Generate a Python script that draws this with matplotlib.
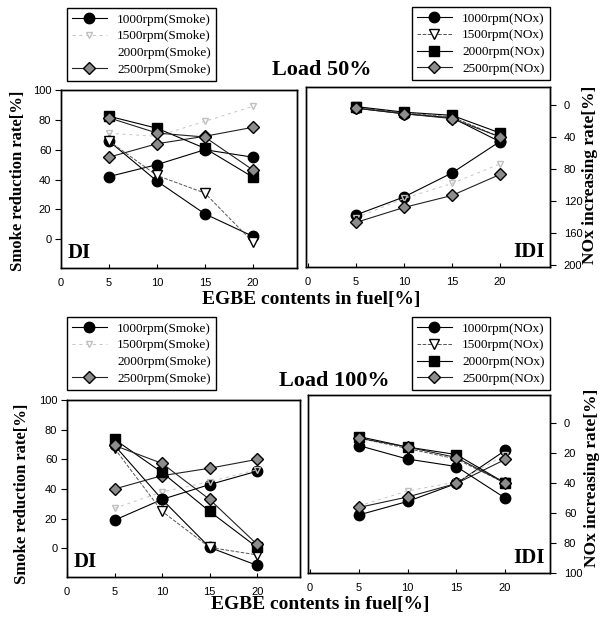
import matplotlib.pyplot as plt
from matplotlib.lines import Line2D

plt.rcParams['font.family'] = 'Liberation Sans'
SERIF = 'Liberation Serif'

fuel = [5, 10, 15, 20]

# Load 50%, DI engine
smoke50_di_1000 = [42, 50, 60, 55]
smoke50_di_1500 = [71, 69, 79, 89]
smoke50_di_2500 = [55, 64, 69, 75]
nox50_di_1000 = [45, 95, 136, 164]
nox50_di_1500 = [45, 88, 110, 171]
nox50_di_2000 = [14, 29, 54, 90]
nox50_di_2500 = [16, 35, 40, 81]

# Load 50%, IDI engine
smoke50_idi_1000 = [16, 28, 44, 65]
smoke50_idi_1500 = [14, 27, 37, 50]
smoke50_idi_2500 = [11, 21, 29, 43]
nox50_idi_1000 = [4, 11, 16, 46]
nox50_idi_1500 = [3, 10, 15, 40]
nox50_idi_2000 = [2, 9, 13, 35]
nox50_idi_2500 = [4, 11, 17, 40]

# Load 100%, DI engine
smoke100_di_1000 = [19, 33, 43, 52]
smoke100_di_1500 = [27, 38, 45, 53]
smoke100_di_2500 = [40, 49, 54, 60]
nox100_di_1000 = [15, 51, 83, 95]
nox100_di_1500 = [17, 59, 83, 88]
nox100_di_2000 = [11, 33, 59, 83]
nox100_di_2500 = [15, 27, 51, 81]

# Load 100%, IDI engine
smoke100_idi_1000 = [22, 31, 43, 65]
smoke100_idi_1500 = [28, 38, 44, 62]
smoke100_idi_2500 = [27, 34, 43, 59]
nox100_idi_1000 = [15, 24, 29, 50]
nox100_idi_1500 = [10, 17, 24, 40]
nox100_idi_2000 = [9, 16, 21, 40]
nox100_idi_2500 = [10, 16, 23, 40]

rpm = [1000, 1500, 2000, 2500]

styles = {
    1000: dict(color='black', lw=0.8, marker='o', ms=7.5, mfc='black', mec='black'),
    1500: dict(color='#555555', lw=0.7, ls='--', marker='v', ms=7, mfc='white', mec='black'),
    2000: dict(color='black', lw=0.8, marker='s', ms=7, mfc='black', mec='black'),
    2500: dict(color='#222222', lw=0.8, marker='D', ms=6, mfc='#8c8c8c', mec='black'),
}
faint = dict(color='#c4c4c4', lw=0.7, ls=(0, (3, 4)), marker='v', ms=4,
             mfc='none', mec='#c0c0c0')

fig = plt.figure(figsize=(6.03, 6.21), dpi=100)


def panel(rect, xlim, smoke_lim, nox_lim, smoke, nox, side, tag):
    ax = fig.add_axes(rect)
    ax2 = ax.twinx()
    for r, vals in smoke.items():
        st = faint if r == 1500 else styles[r]
        ax.plot(fuel, vals, clip_on=False, **st)
    for r, vals in nox.items():
        ax2.plot(fuel, vals, clip_on=False, **styles[r])
    ax.set_xlim(*xlim)
    ax.set_ylim(*smoke_lim)
    ax2.set_ylim(*nox_lim)
    ax.set_xticks([0, 5, 10, 15, 20])
    ax.tick_params(axis='x', direction='in', length=3, labelsize=8, pad=7)
    for a in (ax, ax2):
        for s in a.spines.values():
            s.set_linewidth(1.0)
    if side == 'left':
        ax.set_yticks([0, 20, 40, 60, 80, 100])
        ax.tick_params(axis='y', direction='out', length=4, labelsize=8, pad=3)
        ax2.tick_params(axis='y', right=False, labelright=False)
        ax.text(0.03, 0.03, tag, transform=ax.transAxes, fontfamily=SERIF,
                fontweight='bold', fontsize=15, ha='left', va='bottom')
    else:
        ax.tick_params(axis='y', left=False, labelleft=False)
        ax2.tick_params(axis='y', direction='out', length=4, labelsize=8, pad=6)
        ax.text(0.98, 0.03, tag, transform=ax.transAxes, fontfamily=SERIF,
                fontweight='bold', fontsize=15, ha='right', va='bottom')
    return ax, ax2


# top row (Load 50%)
panel([0.1012, 0.5684, 0.391, 0.2866], (0, 24.6), (-19.3, 100), (203.7, -18.7),
      {1000: smoke50_di_1000, 1500: smoke50_di_1500, 2500: smoke50_di_2500},
      {1000: nox50_di_1000, 1500: nox50_di_1500, 2000: nox50_di_2000, 2500: nox50_di_2500},
      'left', 'DI')
_, a2 = panel([0.5075, 0.570, 0.4046, 0.290], (-0.2, 25.2), (-18.7, 101.3), (202.5, -22.5),
              {1000: smoke50_idi_1000, 1500: smoke50_idi_1500, 2500: smoke50_idi_2500},
              {1000: nox50_idi_1000, 1500: nox50_idi_1500, 2000: nox50_idi_2000, 2500: nox50_idi_2500},
              'right', 'IDI')
a2.set_yticks([0, 40, 80, 120, 160, 200])

# bottom row (Load 100%)
panel([0.1111, 0.0709, 0.3864, 0.285], (0, 24.5), (-19.3, 99), (102.7, -15.3),
      {1000: smoke100_di_1000, 1500: smoke100_di_1500, 2500: smoke100_di_2500},
      {1000: nox100_di_1000, 1500: nox100_di_1500, 2000: nox100_di_2000, 2500: nox100_di_2500},
      'left', 'DI')
_, b2 = panel([0.5108, 0.0773, 0.4013, 0.2866], (-0.2, 24.6), (-16.7, 102), (100, -18.7),
              {1000: smoke100_idi_1000, 1500: smoke100_idi_1500, 2500: smoke100_idi_2500},
              {1000: nox100_idi_1000, 1500: nox100_idi_1500, 2000: nox100_idi_2000, 2500: nox100_idi_2500},
              'right', 'IDI')
b2.set_yticks([0, 20, 40, 60, 80, 100])


def handles(kind):
    hs = []
    for r in rpm:
        if kind == 'Smoke' and r == 1500:
            hs.append(Line2D([], [], **faint))
        elif kind == 'Smoke' and r == 2000:
            hs.append(Line2D([], [], color='none'))
        else:
            hs.append(Line2D([], [], **styles[r]))
    return hs, ['%drpm(%s)' % (r, kind) for r in rpm]


leg_kw = dict(frameon=True, fancybox=False, edgecolor='black', framealpha=1,
              borderaxespad=0, handlelength=2.6, labelspacing=0.35,
              prop={'family': SERIF, 'size': 9.5})
for kind, loc, anchor in [('Smoke', 'upper left', (67 / 603, 1 - 8 / 621)),
                          ('NOx', 'upper right', (550 / 603, 1 - 7 / 621)),
                          ('Smoke', 'upper left', (67 / 603, 1 - 317 / 621)),
                          ('NOx', 'upper right', (550 / 603, 1 - 317 / 621))]:
    h, l = handles(kind)
    lg = fig.legend(h, l, loc=loc, bbox_to_anchor=anchor, **leg_kw)
    lg.get_frame().set_linewidth(1.0)

title_kw = dict(fontfamily=SERIF, fontweight='bold', ha='center', va='center')
fig.text(0.534, 1 - 70 / 621, 'Load 50%', fontsize=16, **title_kw)
fig.text(0.554, 1 - 381 / 621, 'Load 100%', fontsize=16, **title_kw)
fig.text(0.516, 1 - 300 / 621, 'EGBE contents in fuel[%]', fontsize=14, **title_kw)
fig.text(0.531, 1 - 605 / 621, 'EGBE contents in fuel[%]', fontsize=14, **title_kw)
fig.text(0.030, 1 - 181 / 621, 'Smoke reduction rate[%]', fontsize=12, rotation=90, **title_kw)
fig.text(0.036, 1 - 494 / 621, 'Smoke reduction rate[%]', fontsize=12, rotation=90, **title_kw)
fig.text(0.978, 1 - 175 / 621, 'NOx increasing rate[%]', fontsize=12.5, rotation=90, **title_kw)
fig.text(0.982, 1 - 478 / 621, 'NOx increasing rate[%]', fontsize=12.5, rotation=90, **title_kw)

fig.savefig('out.png', dpi=100)
